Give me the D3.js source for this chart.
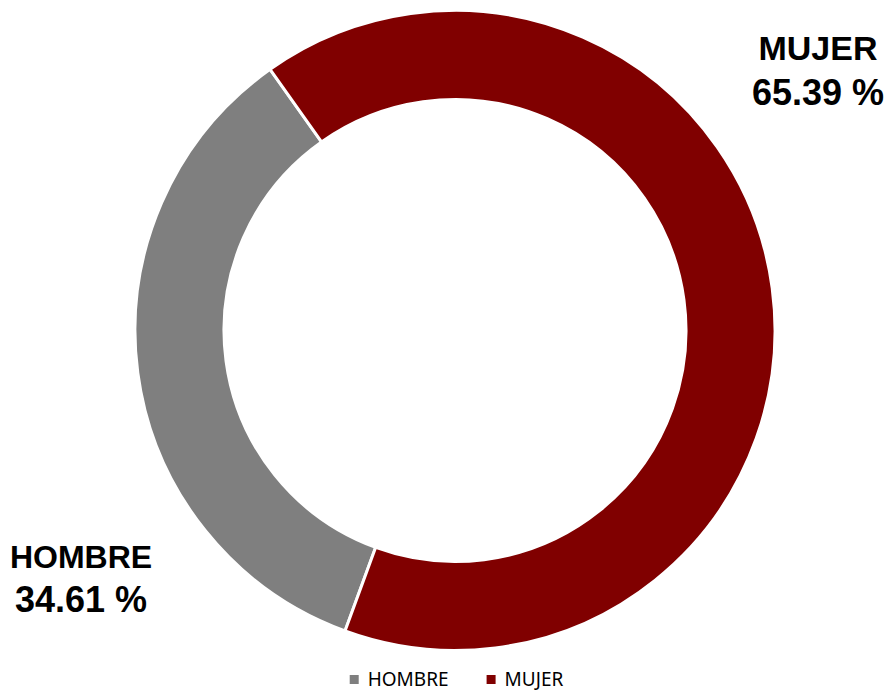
<!DOCTYPE html>
<html>
<head>
<meta charset="utf-8">
<script src="https://cdn.jsdelivr.net/npm/d3@7/dist/d3.min.js"></script>
<style>
  html, body { margin: 0; padding: 0; background: #ffffff; }
  svg { display: block; }
</style>
</head>
<body>
<svg id="chart"></svg>
<script>
const categories = ["HOMBRE", "MUJER"];
const percentValues = [34.61, 65.39];
const valueLabels = ["34.61 %", "65.39 %"];
const sliceColors = ["#7f7f7f", "#800000"];

const WIDTH = 894;
const HEIGHT = 692;
const CENTER = { x: 455, y: 330.5 };
const OUTER_RADIUS = 320;
const INNER_RADIUS = 231;
const START_ANGLE = (200.1 * Math.PI) / 180;

// label anchors for the outside data labels (centre of the two-line block)
const LABEL_ANCHORS = [
  { x: 81, nameY: 568, valueY: 612, nameSize: 32 },
  { x: 818, nameY: 60, valueY: 105, nameSize: 34 },
];

const svg = d3.select("#chart").attr("width", WIDTH).attr("height", HEIGHT);

const slices = categories.map((category, index) => ({
  category,
  value: percentValues[index],
  label: valueLabels[index],
  color: sliceColors[index],
}));

const pie = d3
  .pie()
  .sort(null)
  .value((slice) => slice.value)
  .startAngle(START_ANGLE)
  .endAngle(START_ANGLE + 2 * Math.PI);

const arc = d3.arc().innerRadius(INNER_RADIUS).outerRadius(OUTER_RADIUS);

svg
  .append("g")
  .attr("transform", `translate(${CENTER.x},${CENTER.y})`)
  .selectAll("path")
  .data(pie(slices))
  .join("path")
  .attr("d", arc)
  .attr("fill", (d) => d.data.color)
  .attr("stroke", "#ffffff")
  .attr("stroke-width", 3)
  .attr("stroke-linejoin", "miter");

const labels = svg
  .append("g")
  .attr("font-family", "'Liberation Sans', Arial, sans-serif")
  .attr("font-weight", "bold")
  .attr("fill", "#000000")
  .attr("text-anchor", "middle")
  .selectAll("g")
  .data(slices)
  .join("g");

labels
  .append("text")
  .attr("x", (d, i) => LABEL_ANCHORS[i].x)
  .attr("y", (d, i) => LABEL_ANCHORS[i].nameY)
  .attr("font-size", (d, i) => LABEL_ANCHORS[i].nameSize)
  .text((d) => d.category);

labels
  .append("text")
  .attr("x", (d, i) => LABEL_ANCHORS[i].x)
  .attr("y", (d, i) => LABEL_ANCHORS[i].valueY)
  .attr("font-size", 36)
  .text((d) => d.label);

// legend, centred under the ring
const legend = svg
  .append("g")
  .attr("font-family", "'Noto Sans', 'Open Sans', sans-serif")
  .attr("font-size", 19)
  .attr("fill", "#000000");

const SWATCH = 9;
const SWATCH_GAP = 9;
const ITEM_GAP = 38;
const legendItems = legend.selectAll("g").data(slices).join("g");
legendItems
  .append("rect")
  .attr("width", SWATCH)
  .attr("height", SWATCH)
  .attr("y", -SWATCH / 2)
  .attr("fill", (d) => d.color);
legendItems
  .append("text")
  .attr("x", SWATCH + SWATCH_GAP)
  .attr("dy", "0.35em")
  .text((d) => d.category);

let cursor = 0;
legendItems.each(function placeLegendItem() {
  const item = d3.select(this);
  item.attr("transform", `translate(${cursor},0)`);
  cursor += SWATCH + SWATCH_GAP + item.select("text").node().getComputedTextLength() + ITEM_GAP;
});
const legendWidth = cursor - ITEM_GAP;
legend.attr("transform", `translate(${456.5 - legendWidth / 2},${679.5})`);
</script>
</body>
</html>
